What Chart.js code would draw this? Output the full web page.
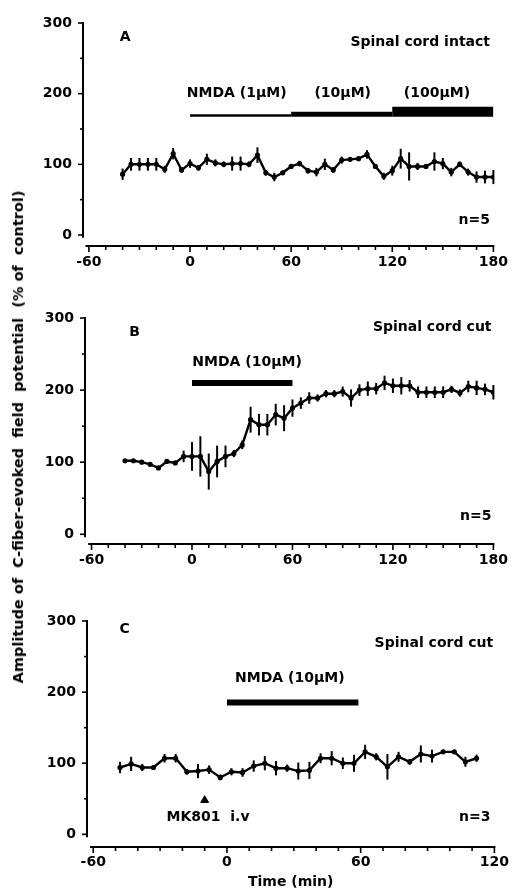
<!DOCTYPE html>
<html><head><meta charset="utf-8">
<script src="https://cdn.jsdelivr.net/npm/chart.js@4/dist/chart.umd.min.js"></script>
<style>
html,body{margin:0;padding:0;background:#fff;}
#wrap{position:relative;width:516px;height:893px;overflow:hidden;background:#fff;}
.panel{position:absolute;left:0;width:516px;}
#ytitle{position:absolute;left:18px;top:437px;transform:translate(-50%,-50%) rotate(-90deg);white-space:pre;font:bold 14.5px "DejaVu Sans";color:#000;}
</style></head><body>
<div id="wrap">
<div class="panel" style="top:0;height:280px"><canvas id="cA" width="516" height="280"></canvas></div>
<div class="panel" style="top:290px;height:300px"><canvas id="cB" width="516" height="300"></canvas></div>
<div class="panel" style="top:600px;height:293px"><canvas id="cC" width="516" height="293"></canvas></div>
<div id="ytitle">Amplitude of  C-fiber-evoked  field  potential  (% of  control)</div>
</div>
<script>
// ---- Data ----
const timesA = [-40,-35,-30,-25,-20,-15,-10,-5,0,5,10,15,20,25,30,35,40,45,50,55,60,65,70,75,80,85,90,95,100,105,110,115,120,125,130,135,140,145,150,155,160,165,170,175,180];
const valsA  = [86,100,100,100,100,93,115,92,101,95,107,102,100,101,101,100,113,88,82,88,97,101,91,89,100,92,106,107,108,114,97,83,91,108,97,97,97,104,101,89,100,89,82,82,82];
const errA   = [8,9,9,9,9,5,8,4,6,4,8,5,4,10,10,4,11,4,6,3,3,4,4,6,8,4,5,3,3,6,3,5,7,14,20,5,3,13,8,6,4,5,8,9,10];

const timesB = [-40,-35,-30,-25,-20,-15,-10,-5,0,5,10,15,20,25,30,35,40,45,50,55,60,65,70,75,80,85,90,95,100,105,110,115,120,125,130,135,140,145,150,155,160,165,170,175,180];
const valsB  = [102,102,100,97,92,101,99,108,108,108,87,101,108,112,124,159,152,152,166,161,175,182,189,189,195,195,198,189,200,202,202,210,206,206,206,197,197,197,197,201,196,205,203,201,197];
const errB   = [2,2,2,2,2,2,2,8,20,28,25,22,15,5,6,18,15,15,15,18,12,8,8,5,5,5,7,12,8,10,8,10,10,12,8,8,8,8,8,5,5,8,10,8,10];

const timesC = [-48,-43,-38,-33,-28,-23,-18,-13,-8,-3,2,7,12,17,22,27,32,37,42,47,52,57,62,67,72,77,82,87,92,97,102,107,112];
const valsC  = [94,99,94,94,107,107,88,89,91,80,88,87,96,100,93,93,89,90,107,107,100,100,116,109,95,109,102,113,110,116,116,102,107];
const errC   = [8,10,5,3,6,6,4,10,6,4,5,6,8,10,10,5,12,12,7,10,8,12,10,5,18,7,4,12,9,3,3,7,5];

const xTickLabelsAB = [-60,0,60,120,180];
const xTickLabelsC  = [-60,0,60,120];
const yTickLabels   = [0,100,200,300];

// ---- Plugins ----
const axesPlugin = {
  id:'sciAxes',
  afterDraw(chart, args, o){
    const {ctx, scales:{x,y}, chartArea:ca} = chart;
    ctx.save();
    ctx.strokeStyle='#000'; ctx.lineWidth=2;
    ctx.beginPath(); ctx.moveTo(ca.left, y.getPixelForValue(y.max)-1); ctx.lineTo(ca.left, y.getPixelForValue(o.yLow)); ctx.stroke();
    ctx.beginPath(); ctx.moveTo(x.getPixelForValue(o.xLow), ca.bottom); ctx.lineTo(x.getPixelForValue(x.max)+1, ca.bottom); ctx.stroke();
    ctx.lineWidth=1.6;
    x.ticks.forEach(t=>{
      const px=x.getPixelForValue(t.value); const major=o.xMajor.includes(t.value);
      ctx.beginPath(); ctx.moveTo(px, ca.bottom); ctx.lineTo(px, ca.bottom+(major?6:4)); ctx.stroke();
    });
    y.ticks.forEach(t=>{
      const py=y.getPixelForValue(t.value); const major=yTickLabels.includes(t.value);
      ctx.beginPath(); ctx.moveTo(ca.left, py); ctx.lineTo(ca.left-(major?5:3), py); ctx.stroke();
    });
    ctx.restore();
  }
};
const errPlugin = {
  id:'errbars',
  afterDatasetsDraw(chart){
    const {ctx, scales:{x,y}} = chart;
    chart.data.datasets.forEach(ds=>{
      if(!ds.errors) return;
      ctx.save(); ctx.strokeStyle='#000'; ctx.lineWidth=2;
      ds.data.forEach((p,i)=>{
        const e=ds.errors[i]; const px=x.getPixelForValue(p.x);
        ctx.beginPath(); ctx.moveTo(px, y.getPixelForValue(p.y+e)); ctx.lineTo(px, y.getPixelForValue(p.y-e)); ctx.stroke();
      });
      ctx.restore();
    });
  }
};
const notesPlugin = {
  id:'notes',
  afterDatasetsDraw(chart, args, o){
    const {ctx, scales:{x,y}} = chart;
    ctx.save(); ctx.fillStyle='#000'; ctx.textBaseline='middle';
    (o.items||[]).forEach(it=>{
      ctx.font = it.font || 'bold 14px "DejaVu Sans"';
      ctx.textAlign = it.align || 'left';
      ctx.fillText(it.text, x.getPixelForValue(it.x), y.getPixelForValue(it.y));
    });
    ctx.restore();
  }
};

Chart.defaults.font.family='"DejaVu Sans"';
Chart.defaults.font.weight='bold';
Chart.defaults.font.size=14;
Chart.defaults.color='#000';

function seriesDs(times, vals, errs){
  return {data: times.map((t,i)=>({x:t,y:vals[i]})), errors: errs, borderColor:'#000', backgroundColor:'#000',
    borderWidth:2.4, pointRadius:1.4, pointHoverRadius:0, tension:0, borderJoinStyle:'miter'};
}
function barDs(x0, x1, yv, w){
  return {data:[{x:x0,y:yv},{x:x1,y:yv}], borderColor:'#000', borderWidth:w, pointRadius:0, borderCapStyle:'butt'};
}

function makePanel(id, p){
  return new Chart(document.getElementById(id), {
    type:'line',
    data:{datasets:p.datasets},
    plugins:[axesPlugin, errPlugin, notesPlugin],
    options:{
      responsive:false, animation:false,
      layout:{padding:p.pad},
      plugins:{legend:{display:false}, tooltip:{enabled:false},
        sciAxes:{xLow:p.xLow, yLow:p.yLow, xMajor:p.xMajor},
        notes:{items:p.notes}},
      scales:{
        x:{type:'linear', min:p.xmin, max:p.xmax,
          afterFit:s=>{s.height=p.xh;},
          border:{display:false}, grid:{display:false, drawTicks:false},
          ticks:{stepSize:10, includeBounds:false, autoSkip:false, maxRotation:0, padding:p.xpad,
            callback:v=>p.xMajor.includes(v)?String(v):''},
          title:p.xtitle?{display:true,text:p.xtitle,padding:{top:0,bottom:2},font:{size:14,weight:'bold'}}:{display:false}
        },
        y:{type:'linear', min:p.ymin, max:300,
          afterFit:s=>{s.width=p.yw;},
          border:{display:false}, grid:{display:false, drawTicks:false},
          ticks:{stepSize:50, includeBounds:false, autoSkip:false, padding:11,
            callback:v=>yTickLabels.includes(v)?String(v):''}
        }
      }
    }
  });
}

makePanel('cA', {
  pad:{top:23,right:19,left:0,bottom:0}, yw:83, xh:34, xmin:-63.5, xmax:180, ymin:-15.6,
  xLow:-62, yLow:-4, xMajor:xTickLabelsAB, xpad:8,
  datasets:[ seriesDs(timesA, valsA, errA), barDs(0,60,169,2.5), barDs(60,120,171,5), barDs(120,180,174.5,10) ],
  notes:[
    {text:'A', x:-41.7, y:280},
    {text:'Spinal cord intact', x:178, y:273, align:'right'},
    {text:'NMDA (1\u03bcM)', x:27.7, y:201, align:'center'},
    {text:'(10\u03bcM)', x:90.6, y:201, align:'center'},
    {text:'(100\u03bcM)', x:146.5, y:201, align:'center'},
    {text:'n=5', x:178, y:21, align:'right'}
  ]
});
makePanel('cB', {
  pad:{top:28,right:15,left:0,bottom:0}, yw:85, xh:46, xmin:-63.9, xmax:180, ymin:-13.5,
  xLow:-62, yLow:-4, xMajor:xTickLabelsAB, xpad:8,
  datasets:[ seriesDs(timesB, valsB, errB), barDs(0,60,210,6) ],
  notes:[
    {text:'B', x:-37.5, y:279.6},
    {text:'Spinal cord cut', x:178.9, y:286.5, align:'right'},
    {text:'NMDA (10\u03bcM)', x:32.9, y:239, align:'center'},
    {text:'n=5', x:178.9, y:25.4, align:'right'}
  ]
});
makePanel('cC', {
  pad:{top:21,right:15,left:0,bottom:0}, yw:87, xh:46, xmin:-62.8, xmax:120, ymin:-17.8,
  xLow:-61.5, yLow:-4, xMajor:xTickLabelsC, xpad:7, xtitle:'Time (min)',
  datasets:[ seriesDs(timesC, valsC, errC), barDs(0,59,185.5,6),
    {type:'scatter', data:[{x:-10,y:48}], pointStyle:'triangle', pointRadius:4.5, backgroundColor:'#000', borderColor:'#000', borderWidth:1} ],
  notes:[
    {text:'C', x:-48.2, y:288},
    {text:'Spinal cord cut', x:119.5, y:269, align:'right'},
    {text:'NMDA (10\u03bcM)', x:28.2, y:219, align:'center'},
    {text:'MK801  i.v', x:-8.5, y:24, align:'center'},
    {text:'n=3', x:118.2, y:24, align:'right'}
  ]
});
</script>
</body></html>
